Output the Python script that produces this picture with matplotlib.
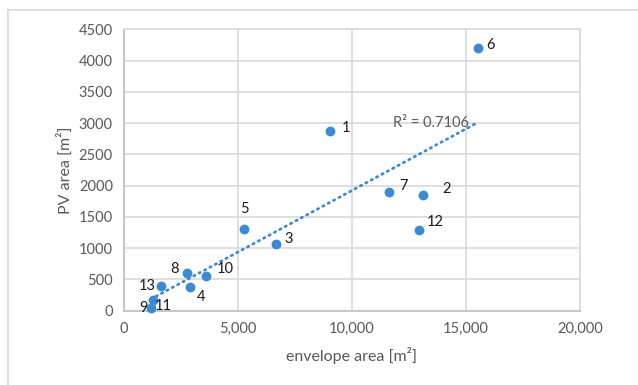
import numpy as np
import matplotlib
matplotlib.use("Agg")
import matplotlib.pyplot as plt
from matplotlib.lines import Line2D

labels = ["1", "2", "3", "4", "5", "6", "7", "8", "9", "10", "11", "12", "13"]
envelope_area = [9020, 13110, 6670, 2880, 5260, 15530, 11610, 2750, 1170, 3600, 1260, 12920, 1640]
pv_area = [2870, 1845, 1060, 380, 1300, 4205, 1905, 600, 40, 560, 165, 1290, 390]
x_ticks = [0, 5000, 10000, 15000, 20000]
x_ticklabels = ["0", "5,000", "10,000", "15,000", "20,000"]
y_ticks = [0, 500, 1000, 1500, 2000, 2500, 3000, 3500, 4000, 4500]
r2_text = "R² = 0.7106"

# label offsets in pixels (dx right, dy up)
label_offsets = {
    "1": (16, 3), "2": (24, 6), "3": (13, 5), "4": (11, -10), "5": (1, 20),
    "6": (12, 3), "7": (15, 6), "8": (-12, 4), "9": (-7, 0), "10": (19, 7),
    "11": (11, -6), "12": (17, 8), "13": (-14, 0),
}

plt.rcParams['font.family'] = ['Lato', 'DejaVu Sans']
W, H = 638, 385
fig = plt.figure(figsize=(W / 100, H / 100), dpi=100)
ax = fig.add_axes([124 / W, 1 - 310.7 / H, (580 - 124) / W, (310.7 - 29.3) / H])

blue = '#3b8bd4'
grid_c = '#d9d9d9'
txt_c = '#595959'

x = np.array(envelope_area, dtype=float)
y = np.array(pv_area, dtype=float)
slope, intercept = np.polyfit(x, y, 1)
xt = np.array([x.min(), x.max()])
ax.plot(xt, slope * xt + intercept, linestyle=(0, (0.5, 1.7)), color=blue, lw=2.0,
        dash_capstyle='round', zorder=2)

ax.scatter(x, y, s=50, color=blue, zorder=3, linewidths=0, clip_on=False)

for lab, xi, yi in zip(labels, x, y):
    dx, dy = label_offsets[lab]
    ax.annotate(lab, (xi, yi), xytext=(dx * 0.72, dy * 0.72), textcoords='offset points',
                ha='center', va='center', fontsize=10.5, color='#1a1a1a', zorder=4)

ax.text(393 / W, 1 - 123 / H, r2_text, transform=fig.transFigure, ha='left', va='center',
        fontsize=10.5, color=txt_c)

ax.set_xlim(0, 20000)
ax.set_ylim(0, 4500)
ax.set_xticks(x_ticks)
ax.set_xticklabels(x_ticklabels)
ax.set_yticks(y_ticks)
ax.grid(True, color=grid_c, lw=1.2)
ax.set_axisbelow(True)
ax.tick_params(length=0, labelsize=10.5, colors=txt_c, pad=8)
for s in ['top', 'right']:
    ax.spines[s].set_color(grid_c)
    ax.spines[s].set_linewidth(1.2)
for s in ['left', 'bottom']:
    ax.spines[s].set_color('#bfbfbf')
    ax.spines[s].set_linewidth(1.2)

ax.set_xlabel("envelope area [m²]", fontsize=11.5, color=txt_c, labelpad=8)
ax.set_ylabel("PV area [m²]", fontsize=11.5, color=txt_c, labelpad=4)

# outer chart frame (left and top edges visible)
fig.add_artist(Line2D([7.5 / W, 7.5 / W], [0, 1 - 10 / H], transform=fig.transFigure,
                      color='#d9d9d9', lw=1.2))
fig.add_artist(Line2D([7.5 / W, 1], [1 - 10 / H, 1 - 10 / H], transform=fig.transFigure,
                      color='#d9d9d9', lw=1.2))

fig.savefig("out.png", dpi=100)
